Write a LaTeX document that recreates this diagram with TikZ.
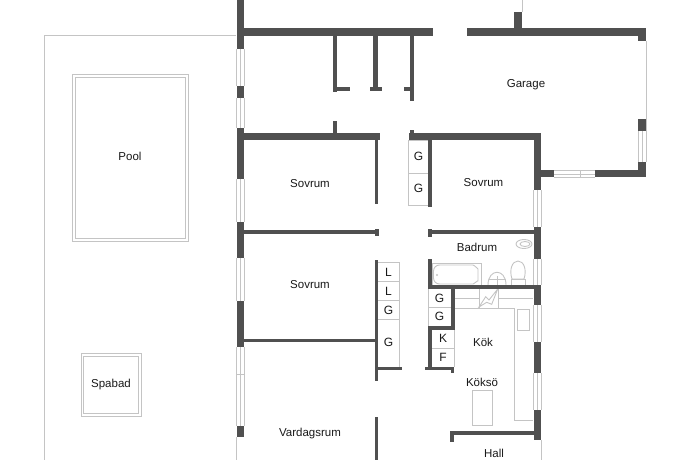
\documentclass[tikz,border=0pt]{standalone}
\usepackage{fontspec}
\usepackage{xcolor}
\setmainfont{Liberation Sans}
\definecolor{wallgray}{HTML}{505050}
\definecolor{thingray}{HTML}{C4C4C4}
\tikzset{
  room/.style={font=\fontsize{11.5}{13}\selectfont,text=black!90,inner sep=0pt},
  mark label/.style={font=\fontsize{12}{13}\selectfont,text=black!90,inner sep=0pt},
  thin gray/.style={draw=thingray,line width=0.9pt},
  wall/.style={fill=wallgray}
}
\begin{document}
\begin{tikzpicture}[x=1pt,y=-1pt]
  \useasboundingbox (0,0) rectangle (690,460);

  % terrace, pool and spa
  \draw[thin gray] (44,460) -- (44,35.5) -- (236,35.5);
  \draw[thin gray] (72.5,74.5) rectangle (188,241.5);
  \draw[thin gray] (75.5,77.5) rectangle (185,238.5);
  \draw[thin gray] (81,353.5) rectangle (141,416);
  \draw[thin gray] (83.5,356) rectangle (138,413);

  % windows, left side
  \foreach \ya/\yb in {49/86,98/128,179/222,258/301,347/426}
    \draw[thin gray] (236.5,\ya) -- (236.5,\yb) (240,\ya) -- (240,\yb) (244,\ya) -- (244,\yb);
  \draw[thin gray] (236.5,437) -- (236.5,460);
  \draw[thin gray] (236.5,374) -- (244,374);

  % windows, right side
  \foreach \ya/\yb in {190/227,259/285,305/342,373/410}
    \draw[thin gray] (533.5,\ya) -- (533.5,\yb) (537.5,\ya) -- (537.5,\yb) (541,\ya) -- (541,\yb);
  \draw[thin gray] (541,440) -- (541,460);

  % windows and open side of the garage
  \draw[thin gray] (638.5,131) -- (638.5,162) (642,131) -- (642,162) (646,41) -- (646,162);
  \draw[thin gray] (554,170.5) -- (595,170.5) (554,174) -- (595,174) (554,177) -- (595,177) (580,170.5) -- (580,177);
  \draw[thin gray] (522,0) -- (522,12);

  % closets
  \draw[thin gray] (428,140) -- (408.5,140) -- (408.5,205) -- (428,205) (408.5,173) -- (428,173);
  \draw[thin gray] (378,262.5) -- (399,262.5) -- (399,367) (378,281) -- (399,281) (378,300) -- (399,300) (378,319) -- (399,319);
  \draw[thin gray] (428,289) -- (428,326) (428,307) -- (451,307);
  \draw[thin gray] (432,348) -- (454,348) (454,330) -- (454,367);

  % kitchen
  \draw[thin gray] (454,298) -- (479,298) (498,298) -- (533,298);
  \draw[thin gray] (454,308) -- (514,308) -- (514,420) -- (533,420);
  \draw[thin gray] (479,289) -- (479,308) (498,289) -- (498,308);
  \draw[thin gray] (517,309) rectangle (529,330);
  \draw[thin gray] (472,390) rectangle (492,425);
  \draw[thin gray] (479,307) -- (485.7,296.7) -- (489,300) -- (497.7,289) -- (491.7,304.3) -- (486.7,302.3) -- cycle;

  % bathroom
  \draw[thin gray] (432,263) rectangle (481,285);
  \draw[thin gray,rounded corners=6pt] (433.5,265) -- (467,265) .. controls (474,265) and (478,269) .. (478,275) .. controls (478,280) and (474,284) .. (467,284) -- (433.5,284) -- cycle;
  \fill[thingray] (437,275) circle (1.2);
  \draw[thin gray] (488,285) .. controls (488,268) and (506,268) .. (506,285);
  \draw[thin gray] (488.5,279) -- (505.5,279);
  \draw[thin gray] (497,276) -- (497,285);
  \draw[thin gray] (512,279) .. controls (509,270) and (512,261) .. (518,261) .. controls (524,261) and (527,270) .. (524,279) -- cycle;
  \draw[thin gray] (511,279) rectangle (525,285);
  \draw[thin gray] (524,244) ellipse (8 and 4.5);
  \draw[thin gray] (525,244) ellipse (5 and 2.5);

  % outer walls
  \foreach \ya/\yb in {0/49,86/98,128/179,222/258,301/347,426/437}
    \fill[wall] (236.5,\ya) rectangle (244,\yb);
  \foreach \ya/\yb in {133/190,227/259,285/305,342/373,410/440}
    \fill[wall] (533.5,\ya) rectangle (541,\yb);
  \fill[wall] (244,28) rectangle (433,36);
  \fill[wall] (467,28) rectangle (646,36);
  \fill[wall] (514,12) rectangle (522,28);
  \fill[wall] (638,36) rectangle (646,41);
  \fill[wall] (638,119) rectangle (646,131);
  \fill[wall] (638,162) rectangle (646,177);
  \fill[wall] (541,170) rectangle (554,177);
  \fill[wall] (595,170) rectangle (646,177);

  % stubs below the top wall
  \fill[wall] (332.5,36) rectangle (337,92);
  \fill[wall] (337,87) rectangle (350,91);
  \fill[wall] (373,36) rectangle (378,87);
  \fill[wall] (370,87) rectangle (382,91);
  \fill[wall] (409.5,36) rectangle (414,101);
  \fill[wall] (404,87) rectangle (409.5,91);

  % inner walls
  \fill[wall] (244,133) rectangle (380,140);
  \fill[wall] (332.5,121) rectangle (337,133);
  \fill[wall] (374.5,140) rectangle (378,204);
  \fill[wall] (244,230) rectangle (375,234);
  \fill[wall] (375,229) rectangle (378.5,236);
  \fill[wall] (375,260) rectangle (378,381);
  \fill[wall] (244,339) rectangle (375,342);
  \fill[wall] (378,367) rectangle (402,370);
  \fill[wall] (375,417) rectangle (378,460);
  \fill[wall] (408.5,133) rectangle (541,140);
  \fill[wall] (410,130) rectangle (414,133);
  \fill[wall] (428,140) rectangle (432,207);
  \fill[wall] (428,230) rectangle (533.5,234);
  \fill[wall] (428,229) rectangle (432,237);
  \fill[wall] (428,259) rectangle (432,285);
  \fill[wall] (428,285) rectangle (533.5,289);
  \fill[wall] (451,289) rectangle (454.5,330);
  \fill[wall] (428,326) rectangle (451,330);
  \fill[wall] (428,330) rectangle (432,367);
  \fill[wall] (424.5,367) rectangle (454,370);
  \fill[wall] (451,370) rectangle (454,373);
  \fill[wall] (450,431) rectangle (533.5,434.5);
  \fill[wall] (450,434.5) rectangle (454,442);

  % labels
  \node[room] (pool)     at (130,156.5) {Pool};
  \node[room] (spabad)   at (111,384.5) {Spabad};
  \node[room] (garage)   at (526,84.5)  {Garage};
  \node[room] (sovruma)  at (310,183.5) {Sovrum};
  \node[room] (sovrumb)  at (483.5,182.5) {Sovrum};
  \node[room] (sovrumc)  at (310,284.5) {Sovrum};
  \node[room] (badrum)   at (477,247.5) {Badrum};
  \node[room] (kok)      at (483,342.5) {Kök};
  \node[room] (kokso)    at (482,382.5) {Köksö};
  \node[room] (vardagsrum) at (310,433.5) {Vardagsrum};
  \node[room] (hall)     at (494,453.5) {Hall};

  \node[mark label] (ga) at (418.5,156.5) {G};
  \node[mark label] (gb) at (418.5,188) {G};
  \node[mark label] (la) at (388.5,272) {L};
  \node[mark label] (lb) at (388.5,291) {L};
  \node[mark label] (gc) at (388.5,310.5) {G};
  \node[mark label] (gd) at (388.5,342) {G};
  \node[mark label] (ge) at (439.5,298) {G};
  \node[mark label] (gf) at (439.5,316) {G};
  \node[mark label] (ka) at (443,338) {K};
  \node[mark label] (fa) at (443,357) {F};
\end{tikzpicture}
\end{document}
